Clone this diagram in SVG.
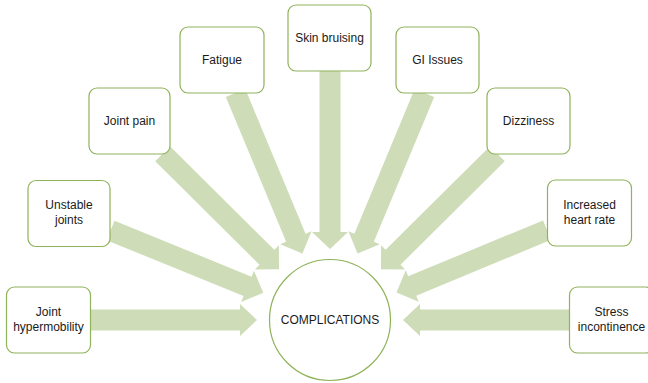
<svg xmlns="http://www.w3.org/2000/svg" width="648" height="383" viewBox="0 0 648 383">
<defs>
<style>
.box{fill:#fff;stroke:#8fb35a;stroke-width:1.2}
.arr{fill:#cedcb8}
text{font-family:"Liberation Sans",Arial,sans-serif;font-size:12px;fill:#1a1a1a;text-anchor:middle}
</style>
</defs>
<rect width="648" height="383" fill="#fff"/>
<g id="connectors">
<!-- joint hypermobility -->
<polygon class="arr" points="90,309.5 240,309.5 240,304 257,320 240,336 240,330.5 90,330.5"/>
<!-- unstable joints -->
<polygon class="arr" transform="translate(263.3,292.8) rotate(22.2)" points="-165,-10.5 -17,-10.5 -17,-17 0,0 -17,17 -17,10.5 -165,10.5"/>
<!-- joint pain -->
<polygon class="arr" transform="translate(279,269.3) rotate(44.8)" points="-164,-10.5 -17,-10.5 -17,-17 0,0 -17,17 -17,10.5 -164,10.5"/>
<!-- fatigue -->
<polygon class="arr" transform="translate(302.4,253.5) rotate(67.4)" points="-174,-10.5 -17,-10.5 -17,-17 0,0 -17,17 -17,10.5 -174,10.5"/>
<!-- skin bruising -->
<polygon class="arr" points="319.5,71 340.5,71 340.5,232 348,232 330,249 312,232 319.5,232"/>
<!-- GI issues -->
<polygon class="arr" transform="translate(357.6,253.5) rotate(112.6)" points="-174,-10.5 -17,-10.5 -17,-17 0,0 -17,17 -17,10.5 -174,10.5"/>
<!-- dizziness -->
<polygon class="arr" transform="translate(381,269.3) rotate(135.2)" points="-164,-10.5 -17,-10.5 -17,-17 0,0 -17,17 -17,10.5 -164,10.5"/>
<!-- increased heart rate -->
<polygon class="arr" transform="translate(396.5,292.5) rotate(157.5)" points="-163,-10.5 -17,-10.5 -17,-17 0,0 -17,17 -17,10.5 -163,10.5"/>
<!-- stress incontinence -->
<polygon class="arr" points="569,309.5 420,309.5 420,304 403,320 420,336 420,330.5 569,330.5"/>
</g>
<g id="complications">
<circle cx="330" cy="320" r="60.5" fill="#fff" stroke="#8fb35a" stroke-width="1.2"/>
<text x="330" y="324">COMPLICATIONS</text>
</g>
<g id="joint-hypermobility">
<rect class="box" x="6.5" y="287" width="84" height="66" rx="8"/>
<text x="48.5" y="316">Joint</text>
<text x="48.5" y="331">hypermobility</text>
</g>
<g id="unstable-joints">
<rect class="box" x="28" y="180.5" width="82" height="66" rx="8"/>
<text x="69" y="209">Unstable</text>
<text x="69" y="224">joints</text>
</g>
<g id="joint-pain">
<rect class="box" x="89" y="88" width="81" height="66" rx="8"/>
<text x="129.5" y="125">Joint pain</text>
</g>
<g id="fatigue">
<rect class="box" x="180" y="27" width="84" height="66" rx="8"/>
<text x="222" y="64">Fatigue</text>
</g>
<g id="skin-bruising">
<rect class="box" x="288" y="5" width="83" height="66" rx="8"/>
<text x="329.5" y="42">Skin bruising</text>
</g>
<g id="gi-issues">
<rect class="box" x="396" y="27" width="83" height="66" rx="8"/>
<text x="437.5" y="64">GI Issues</text>
</g>
<g id="dizziness">
<rect class="box" x="487" y="88" width="83" height="66" rx="8"/>
<text x="528.5" y="125">Dizziness</text>
</g>
<g id="increased-heart-rate">
<rect class="box" x="547.5" y="180" width="84" height="66" rx="8"/>
<text x="589.5" y="209">Increased</text>
<text x="589.5" y="224">heart rate</text>
</g>
<g id="stress-incontinence">
<rect class="box" x="569.5" y="287" width="84" height="66" rx="8"/>
<text x="611.5" y="316">Stress</text>
<text x="611.5" y="331">incontinence</text>
</g>
</svg>
